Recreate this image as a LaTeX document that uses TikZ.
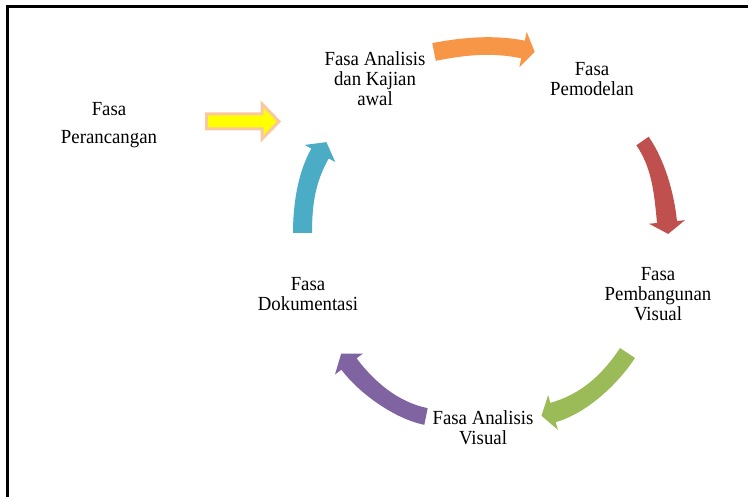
\documentclass[tikz,border=0pt]{standalone}
\usepackage{fontspec}
\setmainfont{Liberation Serif}[FakeStretch=0.94]
\usetikzlibrary{calc}
\definecolor{cOrange}{HTML}{F79646}
\definecolor{cRed}{HTML}{C0504D}
\definecolor{cGreen}{HTML}{9BBB59}
\definecolor{cPurple}{HTML}{8064A2}
\definecolor{cBlue}{HTML}{4BACC6}
\definecolor{cPeach}{HTML}{FAC8A0}
\definecolor{cYellow}{HTML}{FFFF00}
% T C1 C2 B halfw0 halfw1 headhalf headlen color
\newcommand\cyclearrowshape[9]{%
 \fill[#9] ($(#1)!#5!90:(#2)$) .. controls ($(#2)!#5!-90:(#1)$) and ($(#3)!#6!90:(#4)$) .. ($(#4)!#6!-90:(#3)$)
 -- ($(#4)!#7!-90:(#3)$) -- ($(#4)!-#8!(#3)$) -- ($(#4)!#7!90:(#3)$)
 -- ($(#4)!#6!90:(#3)$) .. controls ($(#3)!#6!-90:(#4)$) and ($(#2)!#5!90:(#1)$) .. ($(#1)!#5!-90:(#2)$) -- cycle;}
\tikzset{
  phase/.style={align=center, inner sep=0pt, font=\fontsize{20}{20}\selectfont, text=black},
  frameline/.style={line width=3.3pt, line join=miter},
  blockarrow/.style={fill=cYellow, draw=cPeach, line width=3pt, line join=miter}
}
\begin{document}
\begin{tikzpicture}[x=1pt,y=-1pt]
\useasboundingbox (0,0) rectangle (748,497);
\fill[white] (0,0) rectangle (748,497);
% frame
\coordinate (fb) at (7.7,500);
\coordinate (fc) at (7.7,6.8);
\coordinate (fr) at (752,6.8);
\draw[frameline] (fb) -- (fc) -- (fr);
% texts
\node[phase] (per) at (109,125) {Fasa\\[8pt]Perancangan};
\node[phase] (ana) at (375,79) {Fasa Analisis\\dan Kajian\\awal};
\node[phase] (pem) at (592,79) {Fasa\\Pemodelan};
\node[phase] (pvi) at (658,294) {Fasa\\Pembangunan\\Visual};
\node[phase] (avi) at (483,428) {Fasa Analisis\\Visual};
\node[phase] (dok) at (308,294) {Fasa\\Dokumentasi};
% yellow block arrow
\coordinate (y1) at (206.5,114);
\coordinate (y2) at (262,114);
\coordinate (y3) at (262,104);
\coordinate (y4) at (279,121.5);
\coordinate (y5) at (262,139);
\coordinate (y6) at (262,129);
\coordinate (y7) at (206.5,129);
\filldraw[blockarrow] (y1) -- (y2) -- (y3) -- (y4) -- (y5) -- (y6) -- (y7) -- cycle;
% orange
\coordinate (oT) at (434,52);
\coordinate (oC1) at (464,46);
\coordinate (oC2) at (493.5,43.4);
\coordinate (oB) at (523,49.5);
\cyclearrowshape{oT}{oC1}{oC2}{oB}{9pt}{9pt}{18pt}{12pt}{cOrange}
% red
\coordinate (rT) at (642.5,141);
\coordinate (rC1) at (658.5,164);
\coordinate (rC2) at (664.2,194);
\coordinate (rB) at (667,222);
\cyclearrowshape{rT}{rC1}{rC2}{rB}{7.5pt}{10pt}{18pt}{12pt}{cRed}
% green
\coordinate (gT) at (627.5,353);
\coordinate (gC1) at (610,379.6);
\coordinate (gC2) at (583.7,403.9);
\coordinate (gB) at (553,412.5);
\cyclearrowshape{gT}{gC1}{gC2}{gB}{9pt}{10pt}{18pt}{12pt}{cGreen}
% purple
\coordinate (pT) at (426,416.5);
\coordinate (pC1) at (396.6,410.5);
\coordinate (pC2) at (367,388);
\coordinate (pB) at (349,364);
\cyclearrowshape{pT}{pC1}{pC2}{pB}{8.5pt}{9.5pt}{17.5pt}{13pt}{cPurple}
% blue
\coordinate (bT) at (302.5,233);
\coordinate (bC1) at (302.5,205);
\coordinate (bC2) at (306.3,177.9);
\coordinate (bB) at (320,153.5);
\cyclearrowshape{bT}{bC1}{bC2}{bB}{9.5pt}{10pt}{17.5pt}{13pt}{cBlue}
\end{tikzpicture}
\end{document}
